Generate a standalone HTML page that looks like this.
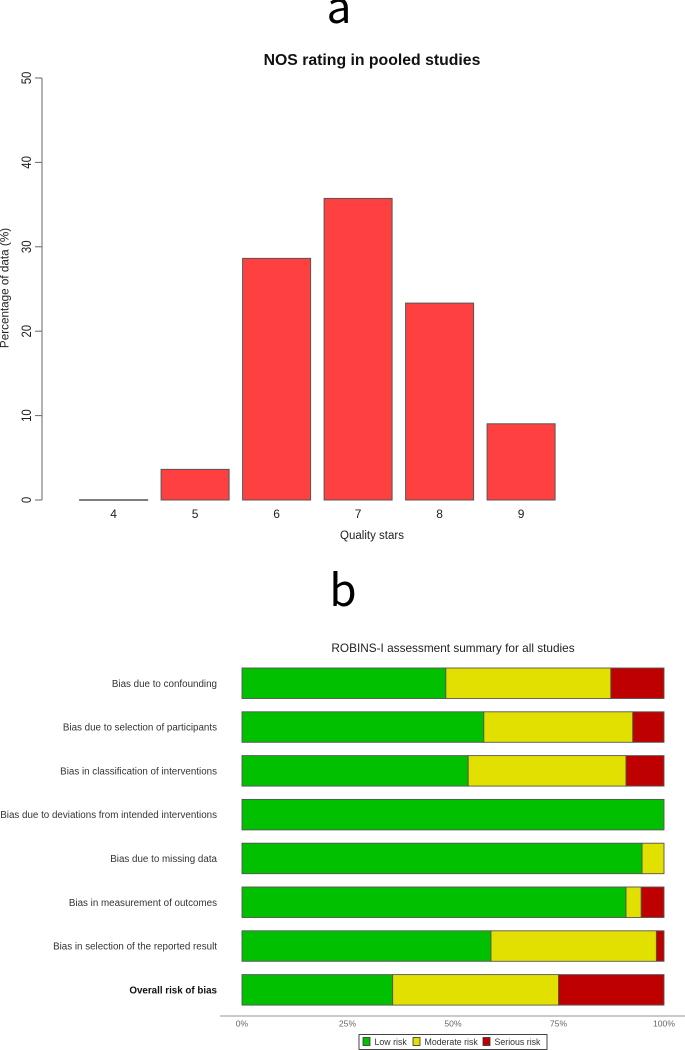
<!DOCTYPE html>
<html lang="en">
<head>
<meta charset="utf-8">
<title>NOS rating and ROBINS-I summary</title>
<style>
html,body{margin:0;padding:0;background:#fff;}
svg{display:block;font-family:"Liberation Sans",sans-serif;filter:blur(0.3px);}
</style>
</head>
<body>
<svg id="fig" xmlns="http://www.w3.org/2000/svg" width="685" height="1050" viewBox="0 0 685 1050">
  <text x="339" y="23" font-size="44" text-anchor="middle" fill="#000" font-family="'Noto Sans CJK JP',sans-serif">a</text>
  <text x="372" y="65" font-size="15.8" font-weight="bold" text-anchor="middle" fill="#111">NOS rating in pooled studies</text>
  <text x="372" y="539" font-size="11.5" text-anchor="middle" fill="#222">Quality stars</text>
  <text transform="translate(8.5,288) rotate(-90)" font-size="11.7" text-anchor="middle" fill="#222">Percentage of data (%)</text>
  <text x="343" y="606" font-size="44" text-anchor="middle" fill="#000" font-family="'Noto Sans CJK JP',sans-serif">b</text>
  <text x="453" y="652" font-size="11.8" text-anchor="middle" fill="#222">ROBINS-I assessment summary for all studies</text>
  <g id="nos"></g>
  <g id="robins"></g>
  <g id="legend"></g>
</svg>
<script>
const nosCategories = ["4", "5", "6", "7", "8", "9"];
const nosValues = [0, 3.6, 28.6, 35.7, 23.3, 9];
const nosTicks = [0, 10, 20, 30, 40, 50];

const robinsDomains = [
  "Bias due to confounding",
  "Bias due to selection of participants",
  "Bias in classification of interventions",
  "Bias due to deviations from intended interventions",
  "Bias due to missing data",
  "Bias in measurement of outcomes",
  "Bias in selection of the reported result",
  "Overall risk of bias"
];
const lowRisk = [48.3, 57.3, 53.6, 100, 94.8, 91, 59, 35.7];
const moderateRisk = [39.1, 35.3, 37.4, 0, 5.2, 3.6, 39.2, 39.3];
const seriousRisk = [12.6, 7.4, 9, 0, 0, 5.4, 1.8, 25];
const robinsTicks = [0, 25, 50, 75, 100];
const legendLabels = ["Low risk", "Moderate risk", "Serious risk"];
const riskColors = ["#00c000", "#e2e000", "#bf0000"];

const NS = "http://www.w3.org/2000/svg";
function make(parent, tag, attrs, text) {
  const el = document.createElementNS(NS, tag);
  for (const k in attrs) el.setAttribute(k, attrs[k]);
  if (text !== undefined) el.textContent = text;
  parent.appendChild(el);
  return el;
}

/* Panel a */
const nos = document.getElementById("nos");
const nosY = v => 500 - v * (500 - 78) / 50;
const nosX = i => 113.6 + i * 81.5;
const nosAxis = make(nos, "line", {x1: 42, x2: 42, y1: nosY(nosTicks[0]), y2: nosY(nosTicks[nosTicks.length - 1]), stroke: "#666", "stroke-width": 1});


nosTicks.forEach(t => {
  const tick = make(nos, "line", {x1: 35, x2: 42, y1: nosY(t), y2: nosY(t), stroke: "#666", "stroke-width": 1});
  
  
  const lab = make(nos, "text", {transform: `translate(31,${nosY(t)}) rotate(-90) scale(0.84,1)`, "font-size": 13.5, "text-anchor": "middle", fill: "#222"}, String(t));
  
  
});
nosValues.forEach((v, i) => {
  const bar = make(nos, "rect", {x: nosX(i) - 34, y: nosY(v) - 0.25, width: 68, height: Math.max(nosY(0) - nosY(v) + 0.25, 0.5), fill: "#ff4040", stroke: "#555", "stroke-width": 1});
  
  
  const lab = make(nos, "text", {x: nosX(i), y: 518, "font-size": 12, "text-anchor": "middle", fill: "#222"}, nosCategories[i]);
  
  
});

/* Panel b */
const robins = document.getElementById("robins");
const rX = p => 242 + p * (664 - 242) / 100;
const rowTop = i => 668 + i * 43.8;
const rowH = 30.5;
const seriesList = [lowRisk, moderateRisk, seriousRisk];
robinsDomains.forEach((d, i) => {
  const overall = i === robinsDomains.length - 1;
  const lab = make(robins, "text", {x: 217, y: rowTop(i) + rowH / 2 + 3.5, "font-size": 9.8, "text-anchor": "end", fill: overall ? "#111" : "#333", "font-weight": overall ? "bold" : "normal"}, d);
  
  
  let cum = 0;
  seriesList.forEach((s, j) => {
    const v = s[i];
    if (v > 0) {
      const seg = make(robins, "rect", {x: rX(cum), y: rowTop(i), width: rX(cum + v) - rX(cum), height: rowH, fill: riskColors[j], stroke: "#555", "stroke-width": 0.9});
      
      
    }
    cum += v;
  });
});
const rAxis = make(robins, "line", {x1: 220, x2: 685, y1: 1016, y2: 1016, stroke: "#aaa", "stroke-width": 1.2});


robinsTicks.forEach(t => {
  const lab = make(robins, "text", {x: rX(t), y: 1026.5, "font-size": 8.6, "text-anchor": "middle", fill: "#666"}, t + "%");
  
  
});

/* Legend */
const legend = document.getElementById("legend");
const legendBox = make(legend, "rect", {x: 359, y: 1034.5, width: 188, height: 15, fill: "#fff", stroke: "#444", "stroke-width": 1});


const legendStart = [363, 413, 483];
legendLabels.forEach((name, i) => {
  const sw = make(legend, "rect", {x: legendStart[i], y: 1037.5, width: 7, height: 8, fill: riskColors[i], stroke: "#333", "stroke-width": 0.8});
  
  
  const lab = make(legend, "text", {x: legendStart[i] + 11.5, y: 1045, "font-size": 8.8, fill: "#333"}, name);
  
  
});
</script>
</body>
</html>
